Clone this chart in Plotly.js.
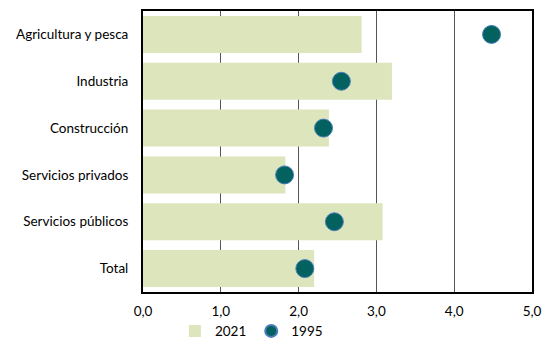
<!DOCTYPE html>
<html><head><meta charset="utf-8">
<script src="https://cdn.plot.ly/plotly-3.0.1.min.js"></script>
<style>body{margin:0;background:#fff}#c{width:558px;height:341px}</style>
</head><body><div id="c"></div>
<script>
const categories = ["Agricultura y pesca","Industria","Construcción","Servicios privados","Servicios públicos","Total"];
const values2021 = [2.81, 3.20, 2.39, 1.83, 3.08, 2.20];
const values1995 = [4.48, 2.55, 2.32, 1.82, 2.46, 2.08];
const tickVals = [0,1,2,3,4,5];
const tickText = ["0,0","1,0","2,0","3,0","4,0","5,0"];

const font = {family:"Lato, 'Open Sans', sans-serif", size:13.5, color:"#000"};
const data = [
  {type:"bar", orientation:"h", name:"2021", x:values2021, y:categories,
   marker:{color:"#dde5bc"}, hoverinfo:"x+y"},
  {type:"scatter", mode:"markers", name:"1995", x:values1995, y:categories,
   marker:{color:"#03615f", size:18, line:{color:"#4a7ebb", width:1}}}
];
const layout = {
  width:558, height:341,
  margin:{l:143, r:26, t:11, b:49, pad:0, autoexpand:false},
  paper_bgcolor:"#fff", plot_bgcolor:"#fff",
  font:font,
  bargap:0.21,
  showlegend:true,
  legend:{orientation:"h", x:0.082, xanchor:"left", y:-0.084, yanchor:"top",
          bgcolor:"rgba(0,0,0,0)", font:font, itemwidth:30, tracegroupgap:0,
          itemclick:false, itemsizing:"constant"},
  xaxis:{range:[0,5], tickvals:tickVals, ticktext:tickText, showgrid:true,
         gridcolor:"#555", gridwidth:1.3, zeroline:false, showline:true, linecolor:"#000",
         linewidth:2, mirror:true, ticks:"", ticklen:0, tickfont:font, fixedrange:true,
         ticklabelstandoff:6, automargin:false},
  yaxis:{type:"category", range:[categories.length-0.5, -0.5], showgrid:false, zeroline:false,
         showline:true, linecolor:"#000", linewidth:2, mirror:true, ticks:"",
         ticklen:0, tickfont:font, fixedrange:true, ticklabelstandoff:10, automargin:false},
};
Plotly.newPlot("c", data, layout, {displayModeBar:false, staticPlot:true});
</script></body></html>
